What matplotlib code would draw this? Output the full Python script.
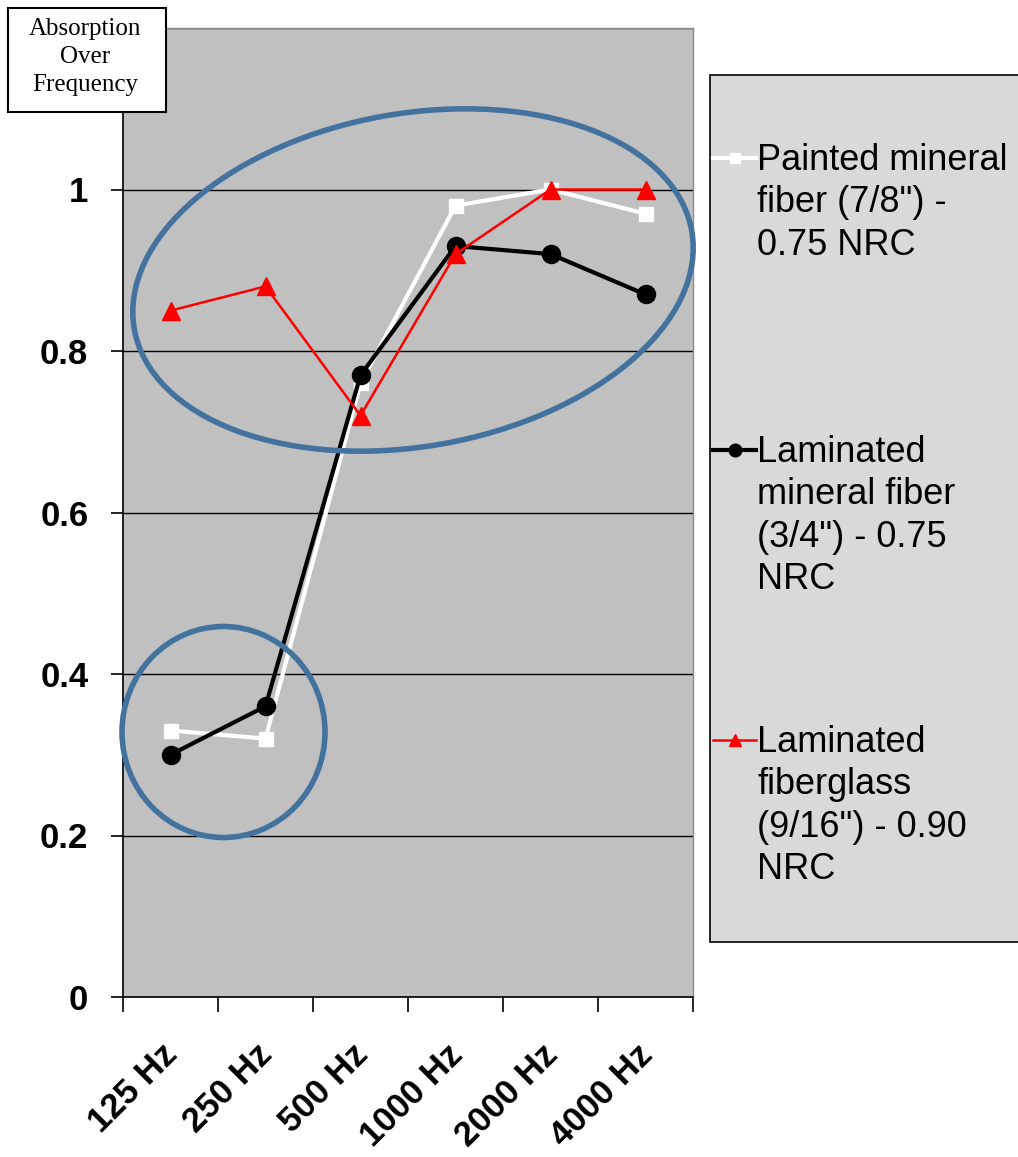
import matplotlib
matplotlib.use("Agg")
import matplotlib.pyplot as plt
import matplotlib.transforms as mtransforms
from matplotlib.patches import Ellipse, Rectangle
from matplotlib.lines import Line2D

plt.rcParams["font.family"] = ["Liberation Sans", "DejaVu Sans"]

freqs = ["125 Hz", "250 Hz", "500 Hz", "1000 Hz", "2000 Hz", "4000 Hz"]
painted = [0.33, 0.32, 0.76, 0.98, 1.00, 0.97]
laminated_mineral = [0.30, 0.36, 0.77, 0.93, 0.92, 0.87]
fiberglass = [0.85, 0.88, 0.72, 0.92, 1.00, 1.00]

labels = [
    'Painted mineral\nfiber (7/8") -\n0.75 NRC',
    'Laminated\nmineral fiber\n(3/4") - 0.75\nNRC',
    'Laminated\nfiberglass\n(9/16") - 0.90\nNRC',
]
styles = [
    dict(color="white", lw=3.0, marker="s", ms=9.5),
    dict(color="black", lw=3.0, marker="o", ms=13),
    dict(color="red", lw=1.8, marker="^", ms=13),
]
series = [painted, laminated_mineral, fiberglass]

W, H = 1018, 1157
fig = plt.figure(figsize=(W / 100, H / 100), dpi=100)
ax = fig.add_axes([123 / W, 1 - 997 / H, 570 / W, 969 / H])
ax.set_facecolor("#c0c0c0")

x = list(range(len(freqs)))
for vals, st in zip(series, styles):
    ax.plot(x, vals, color=st["color"], lw=st["lw"], marker=st["marker"],
            ms=st["ms"], mec=st["color"], mfc=st["color"], zorder=3)

ax.set_xlim(-0.5, len(freqs) - 0.5)
ax.set_ylim(0, 1.2)
ax.set_yticks([0, 0.2, 0.4, 0.6, 0.8, 1.0, 1.2])
ax.set_yticklabels(["0", "0.2", "0.4", "0.6", "0.8", "1", ""],
                   fontsize=25, fontweight="bold")
ax.tick_params(axis="y", length=9, width=1.2, pad=16, direction="out")
ax.yaxis.grid(True, color="black", lw=1.0)
ax.set_axisbelow(True)

# category boundaries get the tick marks, labels sit at the centres
ax.set_xticks([i - 0.5 for i in range(len(freqs) + 1)], minor=True)
ax.set_xticks(x)
ax.set_xticklabels(freqs, fontsize=25, fontweight="bold", rotation=45,
                   ha="right", va="center", rotation_mode="anchor")
ax.tick_params(axis="x", which="major", length=0, pad=38)
ax.tick_params(axis="x", which="minor", length=11, width=1.2, direction="out")
shift = mtransforms.ScaledTranslation(0.02, 0, fig.dpi_scale_trans)
for lbl in ax.get_xticklabels():
    lbl.set_transform(lbl.get_transform() + shift)

for side in ["left", "bottom"]:
    ax.spines[side].set_color("black")
    ax.spines[side].set_linewidth(1.2)
for side in ["top", "right"]:
    ax.spines[side].set_color("#8c8c8c")
    ax.spines[side].set_linewidth(1.0)

# highlight ellipses, sized in inches so they stay round
big = Ellipse((4.13, (H - 280) / 100), 5.66, 3.33, angle=10, fill=False,
              ec="#44729f", lw=4.0, transform=fig.dpi_scale_trans, zorder=5)
small = Ellipse((2.235, (H - 732) / 100), 2.03, 2.11, fill=False,
                ec="#44729f", lw=4.0, transform=fig.dpi_scale_trans, zorder=5)
fig.add_artist(big)
fig.add_artist(small)

# title box in the top-left corner
fig.add_artist(Rectangle((8 / W, 1 - 112 / H), 158 / W, 104 / H,
                         transform=fig.transFigure, fc="white", ec="black",
                         lw=1.5, zorder=6))
fig.text(85 / W, 1 - 57 / H, "Absorption\nOver\nFrequency",
         family=["Liberation Serif", "DejaVu Serif"], fontsize=18,
         ha="center", va="center", linespacing=1.36, zorder=7)

# legend panel
fig.add_artist(Rectangle((710 / W, 1 - 942 / H), 320 / W, 867 / H,
                         transform=fig.transFigure, fc="#d9d9d9", ec="black",
                         lw=1.2, zorder=1))
entry_y = [158, 450, 740]
for lab, st, yy in zip(labels, styles, entry_y):
    yf = 1 - yy / H
    fig.add_artist(Line2D([713 / W, 756 / W], [yf, yf], transform=fig.transFigure,
                          color=st["color"], lw=st["lw"], zorder=2))
    fig.add_artist(Line2D([735 / W], [yf], transform=fig.transFigure,
                          color=st["color"], marker=st["marker"],
                          ms=st["ms"] * 0.7, mec=st["color"], zorder=2))
    fig.text(757 / W, yf + 15 / H, lab, fontsize=26, ha="left", va="top",
             linespacing=1.27, zorder=3)

fig.savefig("out.png", dpi=100)
